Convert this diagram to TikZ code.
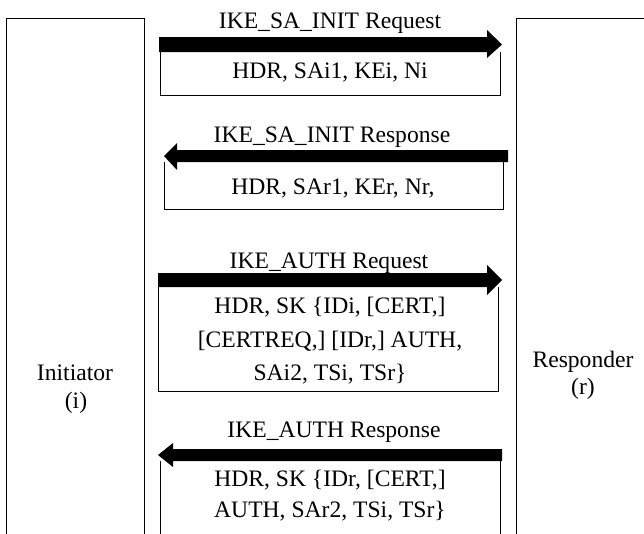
\documentclass[tikz,border=0pt]{standalone}
\usepackage{fontspec}
\setmainfont{Liberation Serif}
\begin{document}
\begin{tikzpicture}[x=1pt,y=-1pt,
  txt/.style={inner sep=0pt,anchor=base,font=\fontsize{23.6}{33}\selectfont,align=center},
  boxline/.style={draw=black,line width=1pt},
  msgbar/.style={fill=black}]
\useasboundingbox (0,0) rectangle (644,533);
\clip (0,0) rectangle (644,533);
% parties
\draw[boxline] (6,540) -- (6,18) -- (144,18) -- (144,540);
\draw[boxline] (516,540) -- (516,18) -- (660,18);
\node[txt] (ini) at (75,380) {Initiator};
\node[txt] (inii) at (76,408) {(i)};
\node[txt] (resp) at (583,367) {Responder};
\node[txt] (respr) at (583,394) {(r)};
% message 1
\node[txt] (l1) at (330,28) {IKE\_SA\_INIT Request};
\fill[msgbar] (159,37) -- (487,37) -- (487,30) -- (502,44.5) -- (487,58) -- (487,52) -- (159,52) -- cycle;
\draw[boxline] (160,52) -- (160,95) -- (500,95) -- (500,52);
\node[txt] (m1) at (330,78) {HDR, SAi1, KEi, Ni};
% message 2
\node[txt] (l2) at (332,142) {IKE\_SA\_INIT Response};
\fill[msgbar] (508,150) -- (177,150) -- (177,143) -- (164,156) -- (177,170) -- (177,162) -- (508,162) -- cycle;
\draw[boxline] (164,162) -- (164,209) -- (503,209) -- (503,162);
\node[txt] (m2) at (333,194) {HDR, SAr1, KEr, Nr,};
% message 3
\node[txt] (l3) at (329,268) {IKE\_AUTH Request};
\fill[msgbar] (158,273) -- (487,273) -- (487,265) -- (502,280) -- (487,295) -- (487,287) -- (158,287) -- cycle;
\draw[boxline] (158,287) -- (158,391) -- (498,391) -- (498,287);
\node[txt] (m3a) at (330,313) {HDR, SK \{IDi, [CERT,]};
\node[txt] (m3b) at (330,347) {[CERTREQ,] [IDr,] AUTH,};
\node[txt] (m3c) at (330,380) {SAi2, TSi, TSr\}};
% message 4
\node[txt] (l4) at (334,437) {IKE\_AUTH Response};
\fill[msgbar] (502,449) -- (173,449) -- (173,443) -- (158,455) -- (173,467) -- (173,461) -- (502,461) -- cycle;
\draw[boxline] (160,461) -- (160,540);
\draw[boxline] (500,461) -- (500,540);
\node[txt] (m4a) at (330,486) {HDR, SK \{IDr, [CERT,]};
\node[txt] (m4b) at (330,517) {AUTH, SAr2, TSi, TSr\}};
\end{tikzpicture}
\end{document}
